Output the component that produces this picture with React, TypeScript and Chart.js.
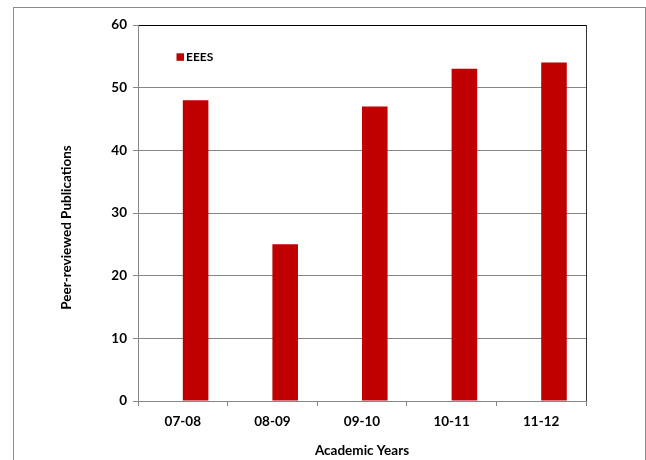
import { useEffect, useRef } from 'react';
import { Chart, registerables } from 'chart.js';

Chart.register(...registerables);

const categories = ['07-08', '08-09', '09-10', '10-11', '11-12'];
const eeesValues = [48, 25, 47, 53, 54];
const emptySeriesValues = [null, null, null, null, null];
const seriesName = 'EEES';
const xTitle = 'Academic Years';
const yTitle = 'Peer-reviewed Publications';
const yMin = 0;
const yMax = 60;
const yStep = 10;

const FONT = 'Lato';
const GRID = '#868686';
const BAR = '#C00000';

const insideLegend = {
  id: 'insideLegend',
  afterDatasetsDraw(chart: any) {
    const { ctx, chartArea } = chart;
    const ds = chart.data.datasets[1];
    const x = chartArea.left + 38.5;
    const y = chartArea.top + 28.3;
    ctx.save();
    ctx.fillStyle = ds.backgroundColor;
    ctx.fillRect(x, y, 7.5, 7.5);
    ctx.font = `bold 12px ${FONT}`;
    ctx.fillStyle = '#000';
    ctx.textBaseline = 'middle';
    ctx.textAlign = 'left';
    ctx.fillText(ds.label, x + 9.5, y + 4);
    ctx.restore();
  },
};

// Y axis title, placed slightly below the plot's vertical centre as in the reference
const yAxisTitle = {
  id: 'yAxisTitle',
  afterDraw(chart: any) {
    const { ctx, chartArea } = chart;
    const cy = (chartArea.top + chartArea.bottom) / 2 + 14.5;
    ctx.save();
    ctx.translate(67, cy);
    ctx.rotate(-Math.PI / 2);
    ctx.font = `bold 13.5px ${FONT}`;
    ctx.fillStyle = '#000';
    ctx.textAlign = 'center';
    ctx.textBaseline = 'middle';
    ctx.fillText(yTitle, 0, 0);
    ctx.restore();
  },
};

export default function App() {
  const ref = useRef<HTMLCanvasElement | null>(null);

  useEffect(() => {
    if (!ref.current) return;
    const chart = new Chart(ref.current, {
      type: 'bar',
      data: {
        labels: categories,
        datasets: [
          {
            label: '',
            data: emptySeriesValues,
            backgroundColor: 'transparent',
            categoryPercentage: 0.571,
            barPercentage: 1,
          },
          {
            label: seriesName,
            data: eeesValues,
            backgroundColor: BAR,
            categoryPercentage: 0.571,
            barPercentage: 1,
          },
        ],
      },
      plugins: [insideLegend, yAxisTitle],
      options: {
        responsive: false,
        animation: false,
        layout: { padding: { top: 25, right: 60, left: 0, bottom: 0 } },
        plugins: {
          legend: { display: false },
          tooltip: { enabled: false },
        },
        scales: {
          x: {
            afterFit(scale: any) {
              scale.height = 59;
            },
            grid: {
              offset: true,
              drawOnChartArea: true,
              color: (ctx: any) => (ctx.type === 'scale' ? '#333333' : 'transparent'),
              tickColor: GRID,
              tickLength: 5,
              lineWidth: 1,
            },
            border: { color: GRID, width: 1 },
            ticks: {
              color: '#000',
              padding: 8,
              font: { family: FONT, size: 13.5, weight: 'bold' },
            },
            title: {
              display: true,
              text: xTitle,
              color: '#000',
              font: { family: FONT, size: 13.5, weight: 'bold' },
              padding: { top: 0, bottom: 1 },
            },
          },
          y: {
            min: yMin,
            max: yMax,
            afterFit(scale: any) {
              scale.width = 138;
            },
            grid: {
              color: (ctx: any) => (ctx.tick && ctx.tick.value === yMax ? '#000' : GRID),
              tickColor: GRID,
              tickLength: 5,
              lineWidth: 1,
            },
            border: { color: GRID, width: 1 },
            ticks: {
              stepSize: yStep,
              color: '#000',
              padding: 6,
              font: { family: FONT, size: 13.5, weight: 'bold' },
            },
            title: { display: false, text: yTitle },
          },
        },
      },
    } as any);
    return () => chart.destroy();
  }, []);

  return (
    <div
      style={{
        position: 'absolute',
        left: 0,
        top: 0,
        width: 646,
        height: 460,
        overflow: 'hidden',
        background: '#fff',
      }}
    >
      <div
        style={{
          position: 'absolute',
          left: 13,
          top: 7,
          width: 633,
          height: 470,
          boxSizing: 'border-box',
          borderLeft: '1px solid #8c8c8c',
          borderTop: '1px solid #8c8c8c',
          borderRight: '1px solid #8c8c8c',
        }}
      />
      <canvas
        ref={ref}
        width={646}
        height={460}
        style={{ position: 'absolute', left: 0, top: 0, width: 646, height: 460 }}
      />
    </div>
  );
}
